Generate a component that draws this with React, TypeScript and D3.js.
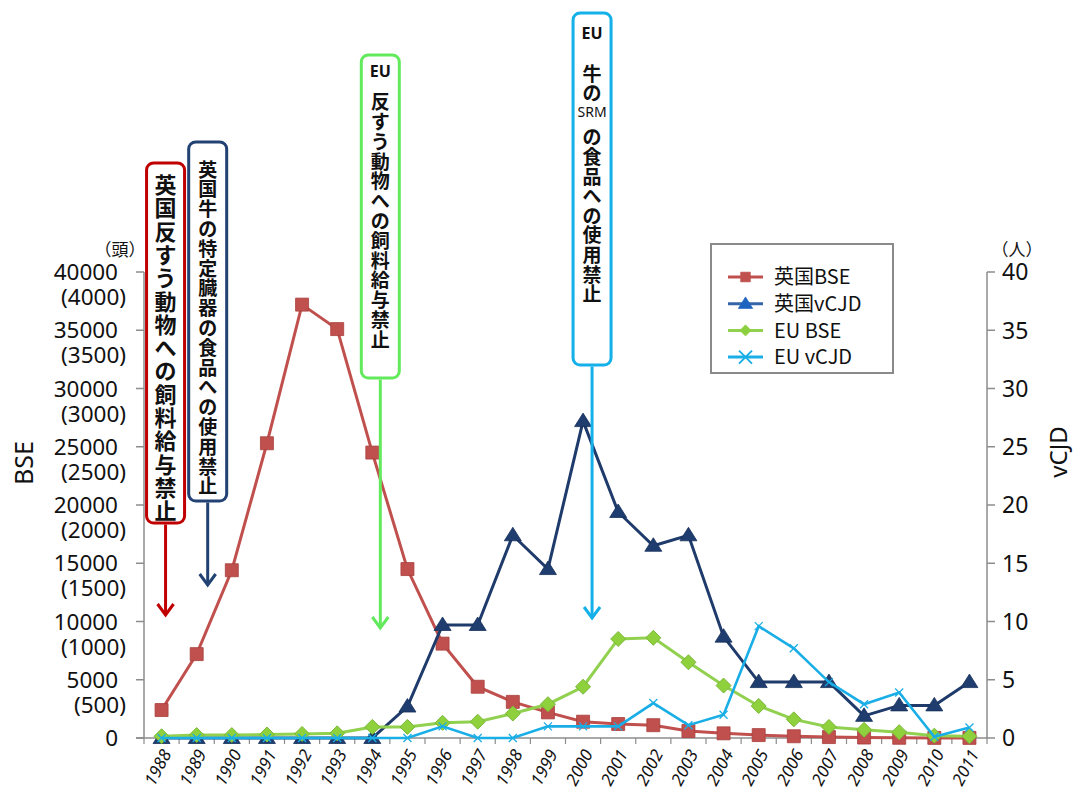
import React from 'react';
import * as d3 from 'd3';

const years = [
  '1988', '1989', '1990', '1991', '1992', '1993', '1994', '1995', '1996', '1997', '1998', '1999',
  '2000', '2001', '2002', '2003', '2004', '2005', '2006', '2007', '2008', '2009', '2010', '2011',
];

// cases (heads) – left axis
const ukBse = [
  2400, 7200, 14400, 25300, 37200, 35100, 24500, 14500, 8100, 4400, 3100, 2200,
  1400, 1200, 1100, 600, 400, 250, 150, 80, 40, 20, 10, 10,
];
// EU BSE, same left axis
const euBse = [
  150, 250, 250, 300, 350, 400, 950, 950, 1300, 1400, 2100, 2900,
  4400, 8500, 8600, 6500, 4500, 2750, 1600, 950, 700, 500, 200, 150,
];
// persons – right axis
const ukVcjd = [
  0, 0, 0, 0, 0, 0, 0, 2.7, 9.7, 9.7, 17.4, 14.5,
  27.2, 19.4, 16.5, 17.4, 8.7, 4.8, 4.8, 4.8, 1.9, 2.8, 2.8, 4.8,
];
const euVcjd = [
  0, 0, 0, 0, 0, 0, 0, 0, 1, 0, 0, 1,
  1, 1, 3, 1.1, 2, 9.6, 7.7, 4.8, 2.9, 3.9, 0.1, 0.9,
];

const leftTicks = [0, 5000, 10000, 15000, 20000, 25000, 30000, 35000, 40000];
const leftSubLabels = ['', '(500)', '(1000)', '(1500)', '(2000)', '(2500)', '(3000)', '(3500)', '(4000)'];
const rightTicks = [0, 5, 10, 15, 20, 25, 30, 35, 40];

const legendNames = ['英国BSE', '英国vCJD', 'EU BSE', 'EU vCJD'];

// policy events, "|" splits horizontal latin runs from vertical kana/kanji
const events = [
  { year: '1988', text: '英国反すう動物への飼料給与禁止' },
  { year: '1989', text: '英国牛の特定臓器の食品への使用禁止' },
  { year: '1994', text: 'EU|反すう動物への飼料給与禁止' },
  { year: '2000', text: 'EU|牛|の|SRM|の食品への使用禁止' },
];

const W = 1074;
const H = 796;
const plot = { left: 144, right: 987, top: 272, bottom: 738 };

const CJK = '"Noto Sans CJK JP", "Noto Sans", sans-serif';
const LAT = '"Noto Sans", "Noto Sans CJK JP", sans-serif';
const AXIS = '#8c8c8c';

const colors = {
  ukBse: '#c0504d',
  ukVcjd: '#1f3b6b',
  euBse: '#92d050',
  euVcjd: '#1aaee6',
};

// box / arrow styling for each event (same order as events)
const eventStyle = [
  { color: '#c00000', top: 163, bottom: 523, tip: 615, dx: 4, y0: 183, step: 23.3, size: 22, adv: [] as number[] },
  { color: '#224273', top: 142, bottom: 501, tip: 585, dx: 11, y0: 168, step: 19.8, size: 19, adv: [] as number[] },
  { color: '#62ea5c', top: 55, bottom: 378, tip: 628, dx: 8, y0: 71, step: 19.8, size: 19, adv: [1.5] },
  { color: '#14b0ea', top: 13, bottom: 365, tip: 618, dx: 9, y0: 33, step: 19.6, size: 19, adv: [2, 1, 1, 1.25] },
];

const squarePath = 'M-6.5,-6.5H6.5V6.5H-6.5Z';
const trianglePath = 'M0,-8L8.5,5.5L-8.5,5.5Z';
const diamondPath = 'M0,-7.5L7.5,0L0,7.5L-7.5,0Z';
const crossPath = 'M-5,-5L5,5M-5,5L5,-5';

const x = d3.scaleBand<string>().domain(years).range([plot.left, plot.right]);
const yLeft = d3.scaleLinear().domain([0, 40000]).range([plot.bottom, plot.top]);
const yRight = d3.scaleLinear().domain([0, 40]).range([plot.bottom, plot.top]);
const cx = (yr: string) => (x(yr) as number) + x.bandwidth() / 2;

function seriesPath(vals: number[], y: d3.ScaleLinear<number, number>) {
  const line = d3.line<number>()
    .x((_, i) => cx(years[i]))
    .y(d => y(d));
  return line(vals) || '';
}

function tokens(text: string) {
  const out: { s: string; latin: boolean }[] = [];
  text.split('|').forEach(seg => {
    if (/^[A-Za-z ]+$/.test(seg)) out.push({ s: seg, latin: true });
    else Array.from(seg).forEach(ch => out.push({ s: ch, latin: false }));
  });
  return out;
}

const Annotation: React.FC<{ idx: number }> = ({ idx }) => {
  const ev = events[idx];
  const st = eventStyle[idx];
  const ax = cx(ev.year) + st.dx;
  const toks = tokens(ev.text);
  let yy = st.y0;
  const placed = toks.map((t, i) => {
    const pos = yy;
    yy += st.step * (st.adv[i] ?? 1);
    return { ...t, y: pos };
  });
  const bw = 38;
  return (
    <g>
      <rect x={ax - bw / 2} y={st.top} width={bw} height={st.bottom - st.top}
        rx={7} fill="#fff" stroke={st.color} strokeWidth={3} />
      {placed.map((t, i) => (
        <text key={i} x={ax} y={t.y} textAnchor="middle" dominantBaseline="central"
          fontFamily={t.latin ? LAT : CJK}
          fontWeight={t.latin && t.s === 'SRM' ? 400 : 700}
          fontSize={t.latin ? (t.s === 'SRM' ? 14 : 16) : st.size}
          fill="#111">{t.s}</text>
      ))}
      <line x1={ax} y1={st.bottom + 1.5} x2={ax} y2={st.tip} stroke={st.color} strokeWidth={3} />
      <path d={`M${ax - 8},${st.tip - 11}L${ax},${st.tip}L${ax + 8},${st.tip - 11}`}
        fill="none" stroke={st.color} strokeWidth={3} strokeLinejoin="miter" />
    </g>
  );
};

const App: React.FC = () => {
  const legendRows = [
    { name: legendNames[0], color: colors.ukBse, marker: squarePath, fill: colors.ukBse, s: 0.75 },
    { name: legendNames[1], color: '#3566a8', marker: trianglePath, fill: '#1f63c0', s: 0.85 },
    { name: legendNames[2], color: colors.euBse, marker: diamondPath, fill: '#8cd040', s: 0.75 },
    { name: legendNames[3], color: colors.euVcjd, marker: crossPath, fill: 'none', s: 1.3 },
  ];

  return (
    <svg width={W} height={H} style={{ position: 'absolute', left: 0, top: 0, background: '#fff' }}>
      <rect width={W} height={H} fill="#fff" />

      {/* axes */}
      <line x1={plot.left} y1={plot.top} x2={plot.left} y2={plot.bottom} stroke={AXIS} strokeWidth={1.5} />
      <line x1={plot.right} y1={plot.top} x2={plot.right} y2={plot.bottom} stroke={AXIS} strokeWidth={1.5} />
      <line x1={plot.left - 8} y1={plot.bottom} x2={plot.right} y2={plot.bottom} stroke={AXIS} strokeWidth={1.5} />

      {leftTicks.map((v, i) => (
        <g key={v}>
          <line x1={plot.left - 8} x2={plot.left} y1={yLeft(v)} y2={yLeft(v)} stroke={AXIS} strokeWidth={1.5} />
          <text x={118} y={yLeft(v)} dy="0.36em" textAnchor="end" fontFamily={LAT} fontSize={22.5} fill="#111">{v}</text>
          {leftSubLabels[i] && (
            <text x={126} y={yLeft(v) + 25} dy="0.36em" textAnchor="end" fontFamily={LAT} fontSize={22.5} fill="#111">
              {leftSubLabels[i]}
            </text>
          )}
        </g>
      ))}
      {rightTicks.map(v => (
        <g key={v}>
          <line x1={plot.right} x2={plot.right + 8} y1={yRight(v)} y2={yRight(v)} stroke={AXIS} strokeWidth={1.5} />
          <text x={1002} y={yRight(v)} dy="0.36em" textAnchor="start" fontFamily={LAT} fontSize={23} fill="#111">{v}</text>
        </g>
      ))}
      {years.map(yr => (
        <line key={yr} x1={x(yr) as number} x2={x(yr) as number}
          y1={plot.bottom} y2={plot.bottom + 6} stroke={AXIS} strokeWidth={1.2} />
      ))}
      <line x1={plot.right} x2={plot.right} y1={plot.bottom} y2={plot.bottom + 6} stroke={AXIS} strokeWidth={1.2} />
      {years.map(yr => (
        <text key={yr} transform={`translate(${cx(yr) + 5},${plot.bottom + 13}) rotate(-62)`}
          textAnchor="end" dy="0.35em" fontFamily={LAT} fontStyle="italic" fontSize={17} fill="#111">{yr}</text>
      ))}

      {/* axis titles */}
      <text x={120} y={248} textAnchor="middle" dominantBaseline="central" fontFamily={CJK} fontSize={17} fill="#111">（頭）</text>
      <text x={1017} y={248} textAnchor="middle" dominantBaseline="central" fontFamily={CJK} fontSize={17} fill="#111">（人）</text>
      <text transform="translate(23,463) rotate(-90)" textAnchor="middle" dominantBaseline="central"
        fontFamily={LAT} fontSize={25} fill="#111">BSE</text>
      <text transform="translate(1057,452) rotate(-90)" textAnchor="middle" dominantBaseline="central"
        fontFamily={LAT} fontSize={24} fill="#111">vCJD</text>

      {/* series */}
      <path d={seriesPath(ukBse, yLeft)} fill="none" stroke={colors.ukBse} strokeWidth={3} />
      {ukBse.map((v, i) => (
        <path key={i} d={squarePath} transform={`translate(${cx(years[i])},${yLeft(v)})`}
          fill={colors.ukBse} stroke="#a8403e" strokeWidth={0.8} />
      ))}
      <path d={seriesPath(ukVcjd, yRight)} fill="none" stroke={colors.ukVcjd} strokeWidth={3} />
      {ukVcjd.map((v, i) => (
        <path key={i} d={trianglePath} transform={`translate(${cx(years[i])},${yRight(v)})`}
          fill="#1f3d6e" stroke="#17305a" strokeWidth={0.8} />
      ))}
      <path d={seriesPath(euBse, yLeft)} fill="none" stroke={colors.euBse} strokeWidth={3} />
      {euBse.map((v, i) => (
        <path key={i} d={diamondPath} transform={`translate(${cx(years[i])},${yLeft(v)})`}
          fill="#8fd13c" stroke="#7bb83a" strokeWidth={1} />
      ))}
      <path d={seriesPath(euVcjd, yRight)} fill="none" stroke={colors.euVcjd} strokeWidth={2.6} />
      {euVcjd.map((v, i) => (
        <path key={i} d={crossPath} transform={`translate(${cx(years[i])},${yRight(v)}) scale(0.8)`}
          fill="none" stroke={colors.euVcjd} strokeWidth={1.6} />
      ))}

      {/* legend */}
      <rect x={711} y={244} width={182} height={129} fill="#fff" stroke="#8a8a8a" strokeWidth={2} />
      {legendRows.map((r, i) => {
        const ly = 277 + i * 26.7;
        return (
          <g key={r.name}>
            <line x1={728} x2={763} y1={ly} y2={ly} stroke={r.color} strokeWidth={3} />
            <path d={r.marker} transform={`translate(745.5,${ly}) scale(${r.s})`} fill={r.fill}
              stroke={r.fill === 'none' ? r.color : r.fill} strokeWidth={r.fill === 'none' ? 1.5 : 0.8} />
            <text x={774} y={ly} dy="0.36em" fontFamily={CJK} fontSize={20} fill="#111">{r.name}</text>
          </g>
        );
      })}

      {/* policy annotations */}
      {events.map((_, i) => <Annotation key={i} idx={i} />)}
    </svg>
  );
};

export default App;
